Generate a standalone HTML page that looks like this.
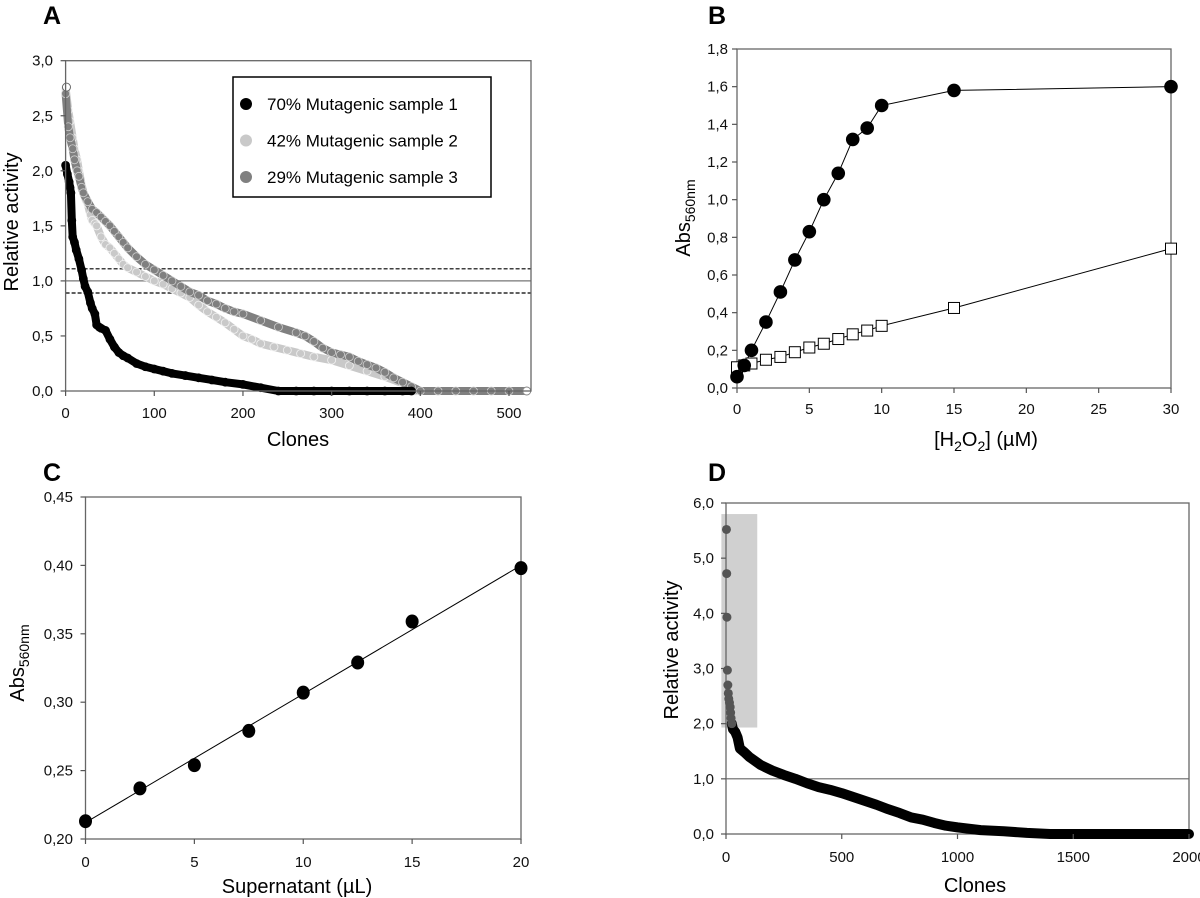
<!DOCTYPE html>
<html><head><meta charset="utf-8"><style>
html,body{margin:0;padding:0;background:#fff;}
svg{display:block;font-family:"Liberation Sans",Arial,sans-serif;}
</style></head><body>
<svg id="fig" width="1200" height="898" viewBox="0 0 1200 898" xmlns="http://www.w3.org/2000/svg"></svg>
<script>
// ---------- Panel A data ----------
const aS1X=[0,2,4,5,6,7,8,10,12,15,18,20,22,25,28,30,33,35,38,40,45,50,55,60,65,70,80,90,100,110,120,135,150,165,180,200,220,240,260,280,300,320,340,360,380,390];
const aS1Y=[2.05,1.97,1.9,1.85,1.8,1.55,1.40,1.35,1.28,1.2,1.1,1.02,0.95,0.9,0.8,0.75,0.70,0.60,0.58,0.57,0.55,0.47,0.40,0.35,0.32,0.30,0.25,0.22,0.20,0.18,0.16,0.14,0.12,0.10,0.08,0.06,0.03,0.0,0,0,0,0,0,0,0,0];
const aS2X=[0,3,5,8,10,13,15,18,20,23,25,28,30,33,35,40,45,50,55,60,65,70,80,90,100,110,120,130,140,150,160,170,180,190,200,210,220,235,250,265,280,300,320,340,360,380,395];
const aS2Y=[2.75,2.55,2.45,2.3,2.2,2.1,2.0,1.88,1.8,1.73,1.7,1.6,1.55,1.52,1.5,1.4,1.33,1.3,1.25,1.2,1.15,1.12,1.08,1.04,1.0,0.97,0.93,0.89,0.85,0.78,0.72,0.67,0.62,0.56,0.50,0.47,0.43,0.40,0.37,0.34,0.31,0.28,0.23,0.18,0.13,0.07,0.0];
const aS3X=[0,3,5,8,10,13,15,18,20,25,30,35,40,45,50,55,60,65,70,80,90,100,110,120,130,140,150,160,170,180,190,200,220,240,260,270,280,290,300,310,320,330,340,350,360,370,380,390,400,420,440,460,480,500,520];
const aS3Y=[2.7,2.4,2.3,2.2,2.1,2.0,1.95,1.85,1.8,1.72,1.65,1.62,1.58,1.54,1.5,1.45,1.4,1.35,1.3,1.22,1.15,1.1,1.05,1.0,0.95,0.9,0.87,0.82,0.79,0.75,0.72,0.7,0.64,0.58,0.53,0.50,0.45,0.39,0.35,0.33,0.31,0.27,0.24,0.21,0.17,0.12,0.08,0.04,0.0,0,0,0,0,0,0];
const aYTicks=[0,0.5,1.0,1.5,2.0,2.5,3.0];
const aYLabels=["0,0","0,5","1,0","1,5","2,0","2,5","3,0"];
const aXTicks=[0,100,200,300,400,500];
const aRefLines=[1.0,1.11,0.89];
const aLegend=["70% Mutagenic sample 1","42% Mutagenic sample 2","29% Mutagenic sample 3"];
// ---------- Panel B data ----------
const bCircX=[0,0.5,1,2,3,4,5,6,7,8,9,10,15,30];
const bCircY=[0.06,0.12,0.20,0.35,0.51,0.68,0.83,1.00,1.14,1.32,1.38,1.50,1.58,1.60];
const bSqX=[0,0.5,1,2,3,4,5,6,7,8,9,10,15,30];
const bSqY=[0.11,0.12,0.13,0.15,0.165,0.19,0.215,0.235,0.26,0.285,0.305,0.33,0.425,0.74];
const bYTicks=[0,0.2,0.4,0.6,0.8,1.0,1.2,1.4,1.6,1.8];
const bYLabels=["0,0","0,2","0,4","0,6","0,8","1,0","1,2","1,4","1,6","1,8"];
const bXTicks=[0,5,10,15,20,25,30];
// ---------- Panel C data ----------
const cX=[0,2.5,5,7.5,10,12.5,15,20];
const cY=[0.213,0.237,0.254,0.279,0.307,0.329,0.359,0.398];
const cFitY=[0.212,0.400];
const cYTicks=[0.20,0.25,0.30,0.35,0.40,0.45];
const cYLabels=["0,20","0,25","0,30","0,35","0,40","0,45"];
const cXTicks=[0,5,10,15,20];
// ---------- Panel D data ----------
const dTopX=[2,3,4,6,8,10,12,15,18,20,22,25];
const dTopY=[5.52,4.72,3.93,2.97,2.7,2.55,2.45,2.38,2.3,2.2,2.1,2.0];
const dX=[25,30,40,50,60,80,100,150,200,250,300,350,400,450,500,550,600,650,700,750,800,850,900,950,1000,1100,1200,1300,1400,1500,1600,1700,1800,1900,2000];
const dY=[2.0,1.9,1.85,1.75,1.55,1.48,1.4,1.25,1.15,1.07,1.0,0.92,0.85,0.8,0.74,0.67,0.6,0.53,0.45,0.38,0.3,0.26,0.2,0.15,0.12,0.07,0.05,0.02,0,0,0,0,0,0,0];
const dYTicks=[0,1,2,3,4,5,6];
const dYLabels=["0,0","1,0","2,0","3,0","4,0","5,0","6,0"];
const dXTicks=[0,500,1000,1500,2000];
const dBand=[-20,135,1.93,5.8];

const svg=document.getElementById('fig');
const NS="http://www.w3.org/2000/svg";
function mk(tag,attrs,parent){const e=document.createElementNS(NS,tag);for(const k in attrs)e.setAttribute(k,attrs[k]);(parent||svg).appendChild(e);return e;}
function lin(d0,d1,r0,r1){return v=>r0+(v-d0)*(r1-r0)/(d1-d0);}

function frame(g,x0,x1,y0,y1){
  const f=mk('rect',{x:x0,y:y1,width:x1-x0,height:y0-y1,fill:'none',stroke:'#666','stroke-width':1.3},g);
  
  
}
function yAxis(g,sy,x0,ticks,labels,lx){
  ticks.forEach((t,i)=>{
    const tk=mk('line',{x1:x0-5,x2:x0,y1:sy(t),y2:sy(t),stroke:'#555','stroke-width':1.2},g);
    
    
    const tx=mk('text',{x:lx,y:sy(t)+5,'text-anchor':'end','font-size':15,fill:'#111'},g);
    tx.textContent=labels[i];
    
    
  });
}
function xAxis(g,sx,y0,ticks,ly){
  ticks.forEach(t=>{
    const tk=mk('line',{x1:sx(t),x2:sx(t),y1:y0,y2:y0+5,stroke:'#555','stroke-width':1.2},g);
    
    
    const tx=mk('text',{x:sx(t),y:ly,'text-anchor':'middle','font-size':15,fill:'#111'},g);
    tx.textContent=String(t);
    
    
  });
}
function text(g,x,y,str,size,name,opts){
  const t=mk('text',Object.assign({x:x,y:y,'font-size':size,fill:'#000','text-anchor':'middle'},opts||{}),g);
  t.textContent=str;
  
  
  return t;
}

// ===== Panel A =====
(function(){
  const g=mk('g',{});
  
  
  const x0=65.6,x1=531,y0=391,y1=60.7;
  const sx=lin(0,500,x0,509),sy=lin(0,3,y0,y1);
  text(g,52,24,'A',25,'panel-a-letter',{'font-weight':'bold'});
  aRefLines.forEach((v,i)=>{
    const l=mk('line',{x1:x0,x2:x1,y1:sy(v),y2:sy(v),stroke:i===0?'#777':'#000','stroke-width':1.2,'stroke-dasharray':i===0?'':'4,2'},g);
    
    
  });
  function series(X,Y,fill,stroke,name){
    const sg=mk('g',{},g);
    
    
    const pl=mk('polyline',{points:X.map((x,i)=>sx(x)+','+sy(Y[i])).join(' '),fill:'none',stroke:fill,'stroke-width':8,'stroke-linecap':'round','stroke-linejoin':'round'},sg);
    
    
    X.forEach((x,i)=>{
      const c=mk('circle',{cx:sx(x),cy:sy(Y[i]),r:4,fill:fill,stroke:stroke,'stroke-width':0.8},sg);
      
      
    });
  }
  series(aS2X,aS2Y,'#c9c9c9','#f2f2f2','series-42-percent');
  series(aS3X,aS3Y,'#808080','#cfcfcf','series-29-percent');
  series(aS1X,aS1Y,'#000','#000','series-70-percent');
  const w=mk('circle',{cx:sx(520),cy:sy(0),r:4,fill:'#fff',stroke:'#888'},g);
  
  
  const w2=mk('circle',{cx:sx(1),cy:sy(2.76),r:4,fill:'#fff',stroke:'#666'},g);
  
  
  frame(g,x0,x1,y0,y1);
  yAxis(g,sy,x0,aYTicks,aYLabels,53);
  xAxis(g,sx,y0,aXTicks,418);
  text(g,298,446,'Clones',20,'x-axis-title');
  text(g,0,0,'Relative activity',20,'y-axis-title',{transform:'translate(18,222) rotate(-90)'});
  const lg=mk('g',{},g);
  
  
  const lb=mk('rect',{x:233,y:77,width:258,height:120,fill:'#fff',stroke:'#000','stroke-width':1.5},lg);
  
  
  const cols=['#000','#c9c9c9','#808080'];
  aLegend.forEach((s,i)=>{
    const yy=104+i*36.5;
    const m=mk('circle',{cx:246,cy:yy,r:6,fill:cols[i]},lg);
    
    
    text(lg,267,yy+6,s,17,'legend-entry',{'text-anchor':'start'});
  });
})();

// ===== Panel B =====
(function(){
  const g=mk('g',{});
  
  
  const x0=737,x1=1171,y0=388,y1=49;
  const sx=lin(0,30,x0,x1),sy=lin(0,1.8,y0,y1);
  text(g,717,24,'B',25,'panel-b-letter',{'font-weight':'bold'});
  frame(g,x0,x1,y0,y1);
  const l1=mk('polyline',{points:bSqX.map((x,i)=>sx(x)+','+sy(bSqY[i])).join(' '),fill:'none',stroke:'#000','stroke-width':1},g);
  
  
  const l2=mk('polyline',{points:bCircX.map((x,i)=>sx(x)+','+sy(bCircY[i])).join(' '),fill:'none',stroke:'#000','stroke-width':1},g);
  
  
  bSqX.forEach((x,i)=>{
    const r=mk('rect',{x:sx(x)-5.5,y:sy(bSqY[i])-5.5,width:11,height:11,fill:'#fff',stroke:'#000','stroke-width':1},g);
    
    
  });
  bCircX.forEach((x,i)=>{
    const c=mk('circle',{cx:sx(x),cy:sy(bCircY[i]),r:6.8,fill:'#000'},g);
    
    
  });
  yAxis(g,sy,x0,bYTicks,bYLabels,728);
  xAxis(g,sx,y0,bXTicks,414);
  const t=mk('text',{x:986,y:446,'text-anchor':'middle','font-size':20},g);
  t.innerHTML='[H<tspan font-size="14" dy="5">2</tspan><tspan dy="-5">O</tspan><tspan font-size="14" dy="5">2</tspan><tspan dy="-5">] (µM)</tspan>';
  
  
  const yt=mk('text',{transform:'translate(690,218) rotate(-90)','text-anchor':'middle','font-size':20},g);
  yt.innerHTML='Abs<tspan font-size="14" dy="5">560nm</tspan>';
  
  
})();

// ===== Panel C =====
(function(){
  const g=mk('g',{});
  
  
  const x0=85.5,x1=521,y0=839,y1=497;
  const sx=lin(0,20,x0,x1),sy=lin(0.2,0.45,y0,y1);
  text(g,52,481,'C',25,'panel-c-letter',{'font-weight':'bold'});
  frame(g,x0,x1,y0,y1);
  const fl=mk('line',{x1:sx(0),y1:sy(cFitY[0]),x2:sx(20),y2:sy(cFitY[1]),stroke:'#000','stroke-width':1},g);
  
  
  cX.forEach((x,i)=>{
    const c=mk('ellipse',{cx:sx(x),cy:sy(cY[i]),rx:6.5,ry:7,fill:'#000'},g);
    
    
  });
  yAxis(g,sy,x0,cYTicks,cYLabels,73);
  xAxis(g,sx,y0,cXTicks,867);
  text(g,297,893,'Supernatant (µL)',20,'x-axis-title');
  const yt=mk('text',{transform:'translate(24,663) rotate(-90)','text-anchor':'middle','font-size':20},g);
  yt.innerHTML='Abs<tspan font-size="14" dy="5">560nm</tspan>';
  
  
})();

// ===== Panel D =====
(function(){
  const g=mk('g',{});
  
  
  const x0=726,x1=1189,y0=834,y1=503;
  const sx=lin(0,2000,x0,x1),sy=lin(0,6,y0,y1);
  text(g,717,481,'D',25,'panel-d-letter',{'font-weight':'bold'});
  const band=mk('rect',{x:sx(dBand[0]),y:sy(dBand[3]),width:sx(dBand[1])-sx(dBand[0]),height:sy(dBand[2])-sy(dBand[3]),fill:'#d0d0d0'},g);
  
  
  frame(g,x0,x1,y0,y1);
  const hl=mk('line',{x1:x0,x2:x1,y1:sy(1),y2:sy(1),stroke:'#666','stroke-width':1.2},g);
  
  
  const pl=mk('polyline',{points:dX.map((x,i)=>sx(x)+','+sy(dY[i])).join(' '),fill:'none',stroke:'#000','stroke-width':10,'stroke-linecap':'round','stroke-linejoin':'round'},g);
  
  
  dTopX.forEach((x,i)=>{
    const c=mk('circle',{cx:sx(x),cy:sy(dTopY[i]),r:4.5,fill:'#555'},g);
    
    
  });
  yAxis(g,sy,x0,dYTicks,dYLabels,714);
  xAxis(g,sx,y0,dXTicks,862);
  text(g,975,892,'Clones',20,'x-axis-title');
  text(g,0,0,'Relative activity',20,'y-axis-title',{transform:'translate(678,650) rotate(-90)'});
})();
</script>
</body></html>
